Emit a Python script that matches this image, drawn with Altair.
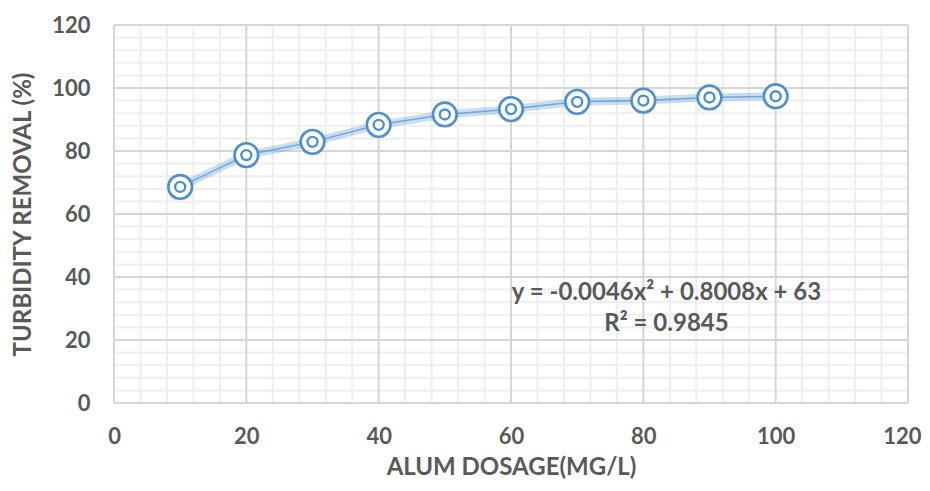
import altair as alt
import pandas as pd

dosage = [10, 20, 30, 40, 50, 60, 70, 80, 90, 100]
removal = [68.6, 78.7, 82.9, 88.3, 91.6, 93.3, 95.6, 96.0, 97.0, 97.4]

eq_x = [83.5, 83.5]
eq_y = [35.0, 25.0]
eq_text = ["y = -0.0046x² + 0.8008x + 63", "R² = 0.9845"]

major_ticks = [0, 20, 40, 60, 80, 100, 120]
minor_ticks = [4, 8, 12, 16, 24, 28, 32, 36, 44, 48, 52, 56, 64, 68, 72, 76,
               84, 88, 92, 96, 104, 108, 112, 116]

df = pd.DataFrame({"x": dosage, "y": removal})
ann = pd.DataFrame({"x": eq_x, "y": eq_y, "t": eq_text})
gmaj = pd.DataFrame({"v": major_ticks})
gmin = pd.DataFrame({"v": minor_ticks})

FONT = "Lato"
GREY = "#595959"
BLUE = "#4f8fd0"

xs = alt.Scale(domain=[0, 120], nice=False, zero=True)
ys = alt.Scale(domain=[0, 120], nice=False, zero=True)

x_axis = alt.Axis(
    values=major_ticks, title="ALUM DOSAGE(MG/L)", grid=False,
    ticks=False, domain=False, labelOverlap=False,
    labelAlign=alt.condition("datum.value == 120", alt.value("right"), alt.value("center")),
    labelOffset=alt.condition("datum.value == 120", alt.value(13), alt.value(0)),
    labelFont=FONT, labelFontSize=22, labelFontWeight="bold", labelColor=GREY,
    labelPadding=23, titleFont=FONT, titleFontSize=24, titleFontWeight="bold",
    titleColor=GREY, titlePadding=8, labelFlush=False,
)
y_axis = alt.Axis(
    values=major_ticks, title="TURBIDITY REMOVAL (%)", grid=False,
    ticks=False, domain=False, labelOverlap=False,
    labelFont=FONT, labelFontSize=22, labelFontWeight="bold", labelColor=GREY,
    labelPadding=24, titleFont=FONT, titleFontSize=24, titleFontWeight="bold",
    titleColor=GREY, titlePadding=16, labelFlush=False,
)

axis_layer = alt.Chart(df).mark_point(opacity=0).encode(
    x=alt.X("x:Q", scale=xs, axis=x_axis),
    y=alt.Y("y:Q", scale=ys, axis=y_axis),
)

vx_min = alt.Chart(gmin).mark_rule(color="#eeeeee", strokeWidth=2).encode(
    x=alt.X("v:Q", scale=xs))
hy_min = alt.Chart(gmin).mark_rule(color="#eeeeee", strokeWidth=2).encode(
    y=alt.Y("v:Q", scale=ys))
vx_maj = alt.Chart(gmaj).mark_rule(color="#d6d6d6", strokeWidth=2).encode(
    x=alt.X("v:Q", scale=xs))
hy_maj = alt.Chart(gmaj).mark_rule(color="#d6d6d6", strokeWidth=2).encode(
    y=alt.Y("v:Q", scale=ys))

base = alt.Chart(df).encode(
    x=alt.X("x:Q", scale=xs),
    y=alt.Y("y:Q", scale=ys),
)

band = base.mark_line(color=BLUE, strokeWidth=8, opacity=0.3)
thin = base.mark_line(color=BLUE, strokeWidth=1.5, opacity=0.7)
outer = base.mark_point(shape="circle", size=560, filled=False, stroke=BLUE,
                        strokeWidth=2.6, fill="white", fillOpacity=1, opacity=1)
inner = base.mark_point(shape="circle", size=100, filled=False, stroke=BLUE,
                        strokeWidth=2.4, opacity=1)

text = alt.Chart(ann).mark_text(font=FONT, fontSize=24, fontWeight="bold",
                                color=GREY, align="center", baseline="middle").encode(
    x=alt.X("x:Q", scale=xs), y=alt.Y("y:Q", scale=ys), text="t:N")

chart = alt.layer(axis_layer, vx_min, hy_min, vx_maj, hy_maj, band, thin, outer, inner, text).properties(
    width=794, height=378,
    autosize=alt.AutoSizeParams(type="none"),
    padding={"left": 106, "top": 17, "right": 14, "bottom": 80},
).configure_view(stroke=None).configure(background="white")

chart.save("out.html", embed_options={"renderer": "svg", "actions": False})
